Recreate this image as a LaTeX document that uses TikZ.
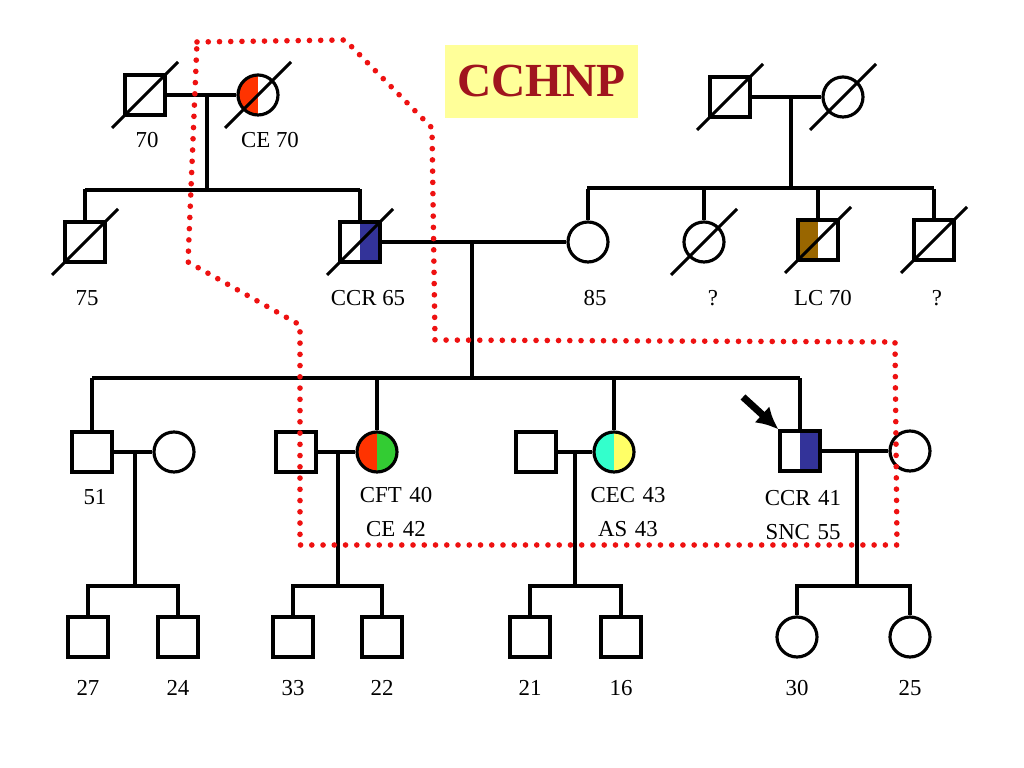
\documentclass[tikz,border=0pt]{standalone}
\usepackage{fontspec}
\setmainfont{Liberation Serif}
\usetikzlibrary{calc,arrows.meta}
\definecolor{ceRed}{HTML}{FF3300}
\definecolor{ccrBlue}{HTML}{333399}
\definecolor{lcBrown}{HTML}{996600}
\definecolor{cftGreen}{HTML}{33CC33}
\definecolor{cecCyan}{HTML}{33FFCC}
\definecolor{asYellow}{HTML}{FFFF66}
\definecolor{titleRed}{HTML}{A0141E}
\definecolor{titleBox}{HTML}{FFFF99}
\definecolor{dotRed}{HTML}{EE1111}
\tikzset{male/.style={draw, line width=0.9pt, minimum size=4mm, inner sep=0pt, fill=white},
	female/.style={draw, circle, line width=0.9pt, minimum size=4mm, inner sep=0pt, fill=white},
	halves/.style 2 args={path picture={
		\fill[#1] (path picture bounding box.south west) rectangle (path picture bounding box.north);
		\fill[#2] (path picture bounding box.south) rectangle (path picture bounding box.north east);}},
	dead/.style={line width=0.9pt},
	line/.style={line width=0.9pt},
	lbl/.style={font=\fontsize{6.5}{7.5}\selectfont, align=center}}
\newcommand{\deceased}[1]{\draw[dead] ([shift={(-0.33,-0.33)}]#1.center) -- ([shift={(0.33,0.33)}]#1.center);}
\begin{document}
\begin{tikzpicture}
    \useasboundingbox (0,0) rectangle (10.24,7.68);
    % title
    \node[fill=titleBox, minimum width=1.93cm, minimum height=0.73cm, text=titleRed,
      font=\fontsize{13.5}{16}\selectfont\bfseries] (title) at (5.415,6.865) {CCHNP};
    % generation I
    \node[male] (gfa) at (1.45,6.73){};
    \node[female, halves={ceRed}{white}] (gmo) at (2.58,6.73){};
    \node[male] (gfb) at (7.30,6.71){};
    \node[female] (gmb) at (8.43,6.71){};
    \draw[line] (gfa) -- (gmo);
    \draw[line] (gfb) -- (gmb);
    \deceased{gfa} \deceased{gmo} \deceased{gfb} \deceased{gmb}
    \node[lbl] (l70) at (1.47,6.28){70};
    \node[lbl] (lce70) at (2.70,6.28){CE 70};
    % generation II
    \coordinate (ja) at (2.07,6.73);
    \coordinate (jb) at (7.91,6.71);
    \draw[line] (ja) -- (2.07,5.78) (0.85,5.78) -- (3.60,5.78);
    \draw[line] (jb) -- (7.91,5.80) (5.87,5.80) -- (9.34,5.80);
    \node[male] (u75) at (0.85,5.26){};
    \node[male, halves={white}{ccrBlue}] (fa) at (3.60,5.26){};
    \node[female] (mo) at (5.88,5.26){};
    \node[female] (aq) at (7.04,5.26){};
    \node[male, halves={lcBrown}{white}] (ulc) at (8.18,5.28){};
    \node[male] (uq) at (9.34,5.28){};
    \foreach \n in {u75,fa,mo,aq,ulc,uq} \draw[line] (\n.north) -- (\n.north |- 0,5.79);
    \draw[line] (fa) -- (mo);
    \deceased{u75} \deceased{fa} \deceased{aq} \deceased{ulc} \deceased{uq}
    \node[lbl] at (0.87,4.70){75};
    \node[lbl] at (3.68,4.70){CCR 65};
    \node[lbl] at (5.95,4.70){85};
    \node[lbl] at (7.13,4.70){?};
    \node[lbl] at (8.23,4.70){LC 70};
    \node[lbl] at (9.37,4.70){?};
    % generation III
    \coordinate (jc) at (4.72,5.26);
    \draw[line] (jc) -- (4.72,3.90) (0.92,3.90) -- (8.00,3.90);
    \node[male] (s51) at (0.92,3.16){};
    \node[female] (w51) at (1.74,3.16){};
    \node[male] (h40) at (2.96,3.16){};
    \node[female, halves={ceRed}{cftGreen}] (d40) at (3.77,3.16){};
    \node[male] (h43) at (5.36,3.16){};
    \node[female, halves={cecCyan}{asYellow}] (d43) at (6.14,3.16){};
    \node[male, halves={white}{ccrBlue}] (pro) at (8.00,3.17){};
    \node[female] (w41) at (9.10,3.17){};
    \foreach \n in {s51,d40,d43,pro} \draw[line] (\n.north) -- (\n.north |- 0,3.90);
    \draw[line] (s51) -- (w51) (h40) -- (d40) (h43) -- (d43) (pro) -- (w41);
    \coordinate (arr) at (7.43,3.71);
    \draw[line width=2pt, -{Latex[length=2.2mm,width=2.2mm]}] (arr) -- (pro.north west);
    \node[lbl] at (0.95,2.71){51};
    \node[lbl, text width=2cm] at (3.96,2.56){CFT 40\\[2pt]CE 42};
    \node[lbl, text width=2cm] at (6.28,2.56){CEC 43\\[2pt]AS 43};
    \node[lbl, text width=2cm] at (8.03,2.53){CCR 41\\[2pt]SNC 55};
    % generation IV
    \foreach \x/\m/\a/\ka/\kb/\s in {1.35/0.88/1.78/27/24/male, 3.38/2.93/3.82/33/22/male,
        5.75/5.30/6.21/21/16/male, 8.57/7.97/9.10/30/25/female} {
      \draw[line] (\x,3.16) -- (\x,1.82);
      \node[\s] (\s\ka) at (\m,1.31){};
      \node[\s] (\s\kb) at (\a,1.31){};
      \draw[line] (\s\ka.north) -- (\m,1.82) -- (\a,1.82) -- (\s\kb.north);
      \node[lbl] at (\m,0.80){\ka};
      \node[lbl] at (\a,0.80){\kb};
    }
    % affected branch
    \draw[dotRed, line width=1.6pt, line cap=round, dash pattern=on 0pt off 3.2pt]
      (1.97,7.26) -- (3.45,7.28) -- (4.32,6.40) -- (4.35,4.28)
      -- (8.95,4.26) -- (8.97,2.23) -- (3.00,2.23) -- (3.00,4.43) -- (1.88,5.06) -- cycle;
\end{tikzpicture}
\end{document}
